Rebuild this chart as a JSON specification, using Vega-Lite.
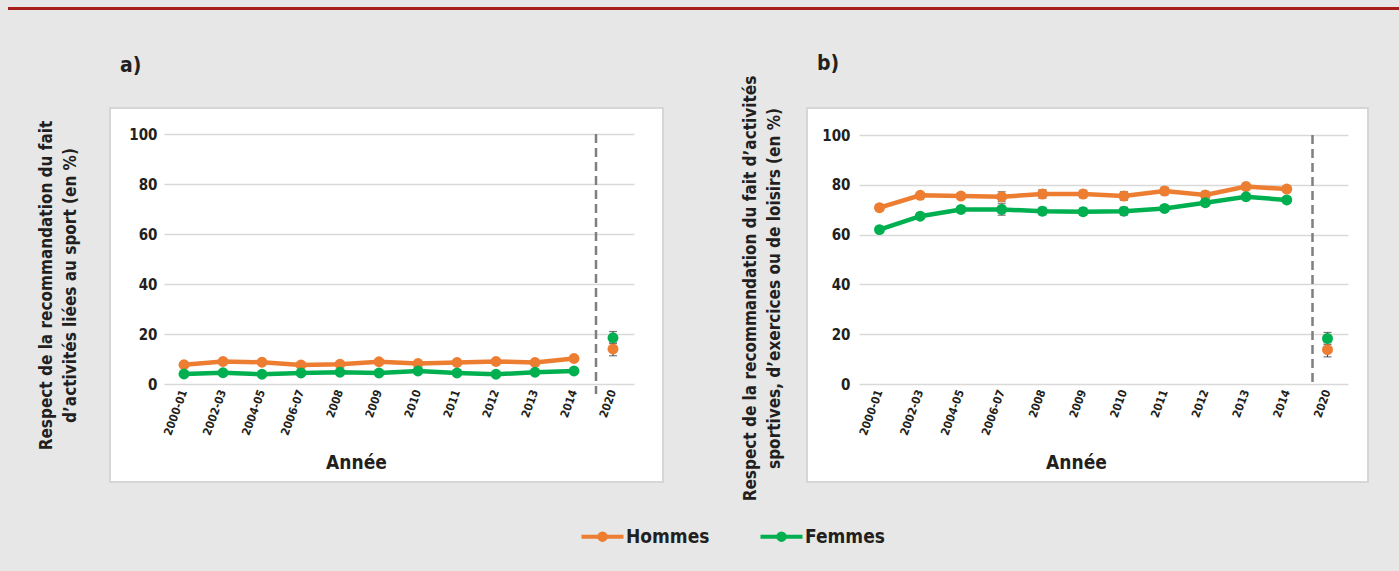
{
  "$schema": "https://vega.github.io/schema/vega-lite/v6.json",
  "background": "#e6e7e6",
  "padding": {"left": 8, "top": 7, "right": 0, "bottom": 70},
  "config": {
    "font": "DejaVu Sans Condensed, Liberation Sans Narrow, Liberation Sans, sans-serif",
    "axis": {"labelColor": "#231f20", "titleColor": "#231f20", "labelFontWeight": "bold", "titleFontWeight": "bold"},
    "title": {"fontSize": 21, "fontWeight": "bold", "color": "#231f20"},
    "legend": {"labelFontSize": 19, "labelFontWeight": "bold", "labelColor": "#231f20"}
  },
  "datasets": {
    "a": [
      {"annee": "2000-01", "sexe": "Hommes", "pct": 7.7, "lo": 7.2, "hi": 8.2},
      {"annee": "2002-03", "sexe": "Hommes", "pct": 9.0, "lo": 8.5, "hi": 9.5},
      {"annee": "2004-05", "sexe": "Hommes", "pct": 8.7, "lo": 8.2, "hi": 9.2},
      {"annee": "2006-07", "sexe": "Hommes", "pct": 7.6, "lo": 7.1, "hi": 8.1},
      {"annee": "2008", "sexe": "Hommes", "pct": 7.9, "lo": 7.4, "hi": 8.4},
      {"annee": "2009", "sexe": "Hommes", "pct": 8.9, "lo": 8.4, "hi": 9.4},
      {"annee": "2010", "sexe": "Hommes", "pct": 8.2, "lo": 7.7, "hi": 8.7},
      {"annee": "2011", "sexe": "Hommes", "pct": 8.6, "lo": 8.1, "hi": 9.1},
      {"annee": "2012", "sexe": "Hommes", "pct": 9.0, "lo": 8.5, "hi": 9.5},
      {"annee": "2013", "sexe": "Hommes", "pct": 8.6, "lo": 8.1, "hi": 9.1},
      {"annee": "2014", "sexe": "Hommes", "pct": 10.2, "lo": 9.7, "hi": 10.7},
      {"annee": "2020", "sexe": "Hommes", "pct": 14.0, "lo": 11.3, "hi": 16.8},
      {"annee": "2000-01", "sexe": "Femmes", "pct": 4.0, "lo": 3.5, "hi": 4.5},
      {"annee": "2002-03", "sexe": "Femmes", "pct": 4.5, "lo": 4.0, "hi": 5.0},
      {"annee": "2004-05", "sexe": "Femmes", "pct": 3.9, "lo": 3.4, "hi": 4.4},
      {"annee": "2006-07", "sexe": "Femmes", "pct": 4.4, "lo": 3.9, "hi": 4.9},
      {"annee": "2008", "sexe": "Femmes", "pct": 4.7, "lo": 4.2, "hi": 5.2},
      {"annee": "2009", "sexe": "Femmes", "pct": 4.4, "lo": 3.9, "hi": 4.9},
      {"annee": "2010", "sexe": "Femmes", "pct": 5.2, "lo": 4.7, "hi": 5.7},
      {"annee": "2011", "sexe": "Femmes", "pct": 4.4, "lo": 3.9, "hi": 4.9},
      {"annee": "2012", "sexe": "Femmes", "pct": 3.9, "lo": 3.4, "hi": 4.4},
      {"annee": "2013", "sexe": "Femmes", "pct": 4.7, "lo": 4.2, "hi": 5.2},
      {"annee": "2014", "sexe": "Femmes", "pct": 5.2, "lo": 4.7, "hi": 5.7},
      {"annee": "2020", "sexe": "Femmes", "pct": 18.5, "lo": 16.2, "hi": 21.0}
    ],
    "b": [
      {"annee": "2000-01", "sexe": "Hommes", "pct": 70.8, "lo": 69.6, "hi": 72.0},
      {"annee": "2002-03", "sexe": "Hommes", "pct": 75.8, "lo": 74.8, "hi": 76.8},
      {"annee": "2004-05", "sexe": "Hommes", "pct": 75.5, "lo": 74.5, "hi": 76.5},
      {"annee": "2006-07", "sexe": "Hommes", "pct": 75.2, "lo": 73.2, "hi": 77.2},
      {"annee": "2008", "sexe": "Hommes", "pct": 76.3, "lo": 74.6, "hi": 78.0},
      {"annee": "2009", "sexe": "Hommes", "pct": 76.3, "lo": 74.8, "hi": 77.8},
      {"annee": "2010", "sexe": "Hommes", "pct": 75.5, "lo": 73.8, "hi": 77.2},
      {"annee": "2011", "sexe": "Hommes", "pct": 77.5, "lo": 76.0, "hi": 79.0},
      {"annee": "2012", "sexe": "Hommes", "pct": 75.9, "lo": 74.4, "hi": 77.4},
      {"annee": "2013", "sexe": "Hommes", "pct": 79.3, "lo": 78.0, "hi": 80.6},
      {"annee": "2014", "sexe": "Hommes", "pct": 78.3, "lo": 77.1, "hi": 79.5},
      {"annee": "2020", "sexe": "Hommes", "pct": 13.8, "lo": 10.9, "hi": 16.6},
      {"annee": "2000-01", "sexe": "Femmes", "pct": 62.0, "lo": 61.2, "hi": 62.8},
      {"annee": "2002-03", "sexe": "Femmes", "pct": 67.4, "lo": 66.4, "hi": 68.4},
      {"annee": "2004-05", "sexe": "Femmes", "pct": 70.1, "lo": 69.1, "hi": 71.1},
      {"annee": "2006-07", "sexe": "Femmes", "pct": 70.1, "lo": 67.8, "hi": 72.4},
      {"annee": "2008", "sexe": "Femmes", "pct": 69.4, "lo": 67.9, "hi": 70.9},
      {"annee": "2009", "sexe": "Femmes", "pct": 69.2, "lo": 67.8, "hi": 70.6},
      {"annee": "2010", "sexe": "Femmes", "pct": 69.4, "lo": 67.8, "hi": 71.0},
      {"annee": "2011", "sexe": "Femmes", "pct": 70.5, "lo": 69.3, "hi": 71.7},
      {"annee": "2012", "sexe": "Femmes", "pct": 72.8, "lo": 71.5, "hi": 74.1},
      {"annee": "2013", "sexe": "Femmes", "pct": 75.2, "lo": 74.2, "hi": 76.2},
      {"annee": "2014", "sexe": "Femmes", "pct": 73.9, "lo": 72.6, "hi": 75.2},
      {"annee": "2020", "sexe": "Femmes", "pct": 18.3, "lo": 15.9, "hi": 20.7}
    ]
  },
  "vconcat": [
    {
      "width": 1391,
      "height": 3,
      "data": {"values": []},
      "mark": "rule",
      "encoding": {},
      "view": {"fill": "#a8201a", "stroke": null}
    },
    {
      "hconcat": [
        {
          "width": 28,
          "height": 10,
          "data": {"values": []},
          "mark": "rule",
          "encoding": {},
          "view": {"fill": null, "stroke": null}
        },
        {
          "hconcat": [
            {
              "width": 553,
              "height": 374,
              "view": {"fill": "#ffffff", "stroke": "#d6d6d6", "strokeWidth": 2},
              "title": {"text": "a)", "anchor": "start", "frame": "group", "dx": 10, "offset": 11, "baseline": "bottom"},
              "data": {"name": "a"},
              "encoding": {
                "x": {
                  "field": "annee", "type": "ordinal",
                  "scale": {"type": "point", "padding": 0, "range": [74, 503], "domain": ["2000-01", "2002-03", "2004-05", "2006-07", "2008", "2009", "2010", "2011", "2012", "2013", "2014", "2020"]},
                  "axis": {
                    "orient": "bottom", "offset": -98, "domain": false, "ticks": false,
                    "labelAngle": -70, "labelAlign": "right", "labelBaseline": "middle", "labelPadding": 6,
                    "labelFontSize": 11.5, "labelOverlap": false,
                    "title": "Année", "titleFontSize": 19, "titleX": 246, "titleY": 78, "titleBaseline": "middle", "titleAlign": "center"
                  }
                },
                "y": {
                  "field": "pct", "type": "quantitative",
                  "scale": {"domain": [0, 100], "range": [276, 26], "nice": false, "zero": false},
                  "axis": {
                    "orient": "left", "offset": -524, "values": [0, 20, 40, 60, 80, 100],
                    "tickSize": 470, "tickColor": "#d9d9d9", "tickWidth": 1.5, "domain": false, "grid": false,
                    "labelPadding": 7, "labelFontSize": 15,
                    "title": ["Respect de la recommandation du fait", "d’activités liées au sport (en %)"],
                    "titleFontSize": 17, "titleAngle": -90, "titleX": -588, "titleY": 177,
                    "titleBaseline": "middle", "titleAlign": "center", "titleLineHeight": 24
                  }
                }
              },
              "layer": [
                {
                  "transform": [{"filter": "datum.annee !== '2020'"}],
                  "mark": {"type": "line", "strokeWidth": 4.5},
                  "encoding": {
                    "color": {
                      "field": "sexe", "type": "nominal",
                      "scale": {"domain": ["Hommes", "Femmes"], "range": ["#ed7d31", "#00b050"]},
                      "legend": {
                        "orient": "none", "legendX": 585, "legendY": 520, "direction": "horizontal", "title": null,
                        "padding": 0, "symbolSize": 100, "labelOffset": 14, "columnPadding": 42,
                        "symbolType": "M-4.2,0H4.2M-0.65,0A0.65,0.65,0,1,1,0.65,0A0.65,0.65,0,1,1,-0.65,0Z",
                        "symbolStrokeWidth": 4
                      }
                    }
                  }
                },
                {
                  "data": {"values": [{"separation": "2020", "haut": 100, "bas": -4}]},
                  "mark": {"type": "rule", "strokeDash": [9, 5], "color": "#7f7f7f", "strokeWidth": 2.5, "xOffset": -17},
                  "encoding": {
                    "x": {"field": "separation", "type": "ordinal"},
                    "y": {"field": "haut", "type": "quantitative"},
                    "y2": {"field": "bas"}
                  }
                },
                {
                  "mark": {"type": "rule", "color": "#404040", "strokeWidth": 1.2},
                  "encoding": {"y": {"field": "lo", "type": "quantitative"}, "y2": {"field": "hi"}}
                },
                {
                  "mark": {"type": "tick", "color": "#404040", "thickness": 1.2, "size": 8},
                  "encoding": {"y": {"field": "lo", "type": "quantitative"}}
                },
                {
                  "mark": {"type": "tick", "color": "#404040", "thickness": 1.2, "size": 8},
                  "encoding": {"y": {"field": "hi", "type": "quantitative"}}
                },
                {
                  "mark": {"type": "circle", "size": 120, "opacity": 1},
                  "encoding": {
                    "color": {
                      "field": "sexe", "type": "nominal",
                      "scale": {"domain": ["Hommes", "Femmes"], "range": ["#ed7d31", "#00b050"]},
                      "legend": {
                        "orient": "none", "legendX": 585, "legendY": 520, "direction": "horizontal", "title": null,
                        "padding": 0, "symbolSize": 100, "labelOffset": 14, "columnPadding": 42,
                        "symbolType": "M-4.2,0H4.2M-0.65,0A0.65,0.65,0,1,1,0.65,0A0.65,0.65,0,1,1,-0.65,0Z",
                        "symbolStrokeWidth": 4
                      }
                    }
                  }
                }
              ]
            },
            {
              "width": 561,
              "height": 374,
              "view": {"fill": "#ffffff", "stroke": "#d6d6d6", "strokeWidth": 2},
              "title": {"text": "b)", "anchor": "start", "frame": "group", "dx": 10, "offset": -20, "baseline": "bottom"},
              "data": {"name": "b"},
              "encoding": {
                "x": {
                  "field": "annee", "type": "ordinal",
                  "scale": {"type": "point", "padding": 0, "range": [72.5, 520.5], "domain": ["2000-01", "2002-03", "2004-05", "2006-07", "2008", "2009", "2010", "2011", "2012", "2013", "2014", "2020"]},
                  "axis": {
                    "orient": "bottom", "offset": -98, "domain": false, "ticks": false,
                    "labelAngle": -70, "labelAlign": "right", "labelBaseline": "middle", "labelPadding": 6,
                    "labelFontSize": 11.5, "labelOverlap": false,
                    "title": "Année", "titleFontSize": 19, "titleX": 269, "titleY": 78, "titleBaseline": "middle", "titleAlign": "center"
                  }
                },
                "y": {
                  "field": "pct", "type": "quantitative",
                  "scale": {"domain": [0, 100], "range": [276, 27], "nice": false, "zero": false},
                  "axis": {
                    "orient": "left", "offset": -541, "values": [0, 20, 40, 60, 80, 100],
                    "tickSize": 489, "tickColor": "#d9d9d9", "tickWidth": 1.5, "domain": false, "grid": false,
                    "labelPadding": 9, "labelFontSize": 15,
                    "title": ["Respect de la recommandation du fait d’activités", "sportives, d’exercices ou de loisirs (en %)"],
                    "titleFontSize": 17, "titleAngle": -90, "titleX": -598, "titleY": 180,
                    "titleBaseline": "middle", "titleAlign": "center", "titleLineHeight": 24
                  }
                }
              },
              "layer": [
                {
                  "transform": [{"filter": "datum.annee !== '2020'"}],
                  "mark": {"type": "line", "strokeWidth": 4.5},
                  "encoding": {
                    "color": {
                      "field": "sexe", "type": "nominal",
                      "scale": {"domain": ["Hommes", "Femmes"], "range": ["#ed7d31", "#00b050"]},
                      "legend": {
                        "orient": "none", "legendX": 585, "legendY": 520, "direction": "horizontal", "title": null,
                        "padding": 0, "symbolSize": 100, "labelOffset": 14, "columnPadding": 42,
                        "symbolType": "M-4.2,0H4.2M-0.65,0A0.65,0.65,0,1,1,0.65,0A0.65,0.65,0,1,1,-0.65,0Z",
                        "symbolStrokeWidth": 4
                      }
                    }
                  }
                },
                {
                  "data": {"values": [{"separation": "2020", "haut": 100, "bas": -1.2}]},
                  "mark": {"type": "rule", "strokeDash": [9, 5], "color": "#7f7f7f", "strokeWidth": 2.5, "xOffset": -15},
                  "encoding": {
                    "x": {"field": "separation", "type": "ordinal"},
                    "y": {"field": "haut", "type": "quantitative"},
                    "y2": {"field": "bas"}
                  }
                },
                {
                  "mark": {"type": "rule", "color": "#404040", "strokeWidth": 1.2},
                  "encoding": {"y": {"field": "lo", "type": "quantitative"}, "y2": {"field": "hi"}}
                },
                {
                  "mark": {"type": "tick", "color": "#404040", "thickness": 1.2, "size": 8},
                  "encoding": {"y": {"field": "lo", "type": "quantitative"}}
                },
                {
                  "mark": {"type": "tick", "color": "#404040", "thickness": 1.2, "size": 8},
                  "encoding": {"y": {"field": "hi", "type": "quantitative"}}
                },
                {
                  "mark": {"type": "circle", "size": 120, "opacity": 1},
                  "encoding": {
                    "color": {
                      "field": "sexe", "type": "nominal",
                      "scale": {"domain": ["Hommes", "Femmes"], "range": ["#ed7d31", "#00b050"]},
                      "legend": {
                        "orient": "none", "legendX": 585, "legendY": 520, "direction": "horizontal", "title": null,
                        "padding": 0, "symbolSize": 100, "labelOffset": 14, "columnPadding": 42,
                        "symbolType": "M-4.2,0H4.2M-0.65,0A0.65,0.65,0,1,1,0.65,0A0.65,0.65,0,1,1,-0.65,0Z",
                        "symbolStrokeWidth": 4
                      }
                    }
                  }
                }
              ]
            }
          ],
          "spacing": 76
        }
      ],
      "spacing": 0
    }
  ],
  "spacing": 42
}
